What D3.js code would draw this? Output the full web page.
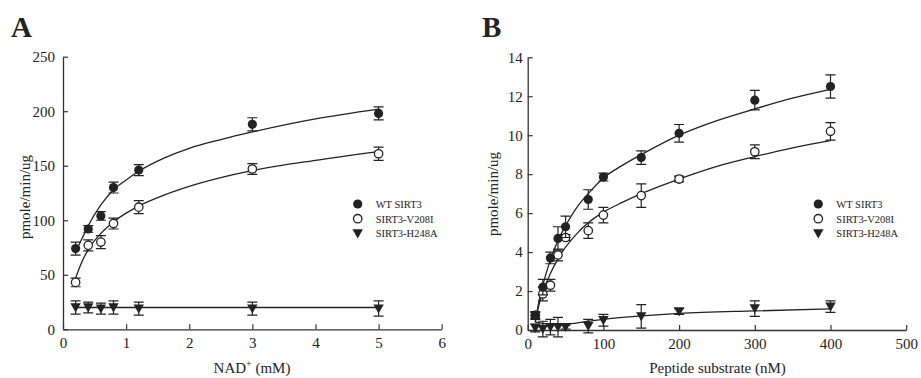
<!DOCTYPE html>
<html>
<head>
<meta charset="utf-8">
<script src="https://cdn.jsdelivr.net/npm/d3@7"></script>
<style>
  html, body { margin: 0; padding: 0; background: #fff; }
  svg text { font-family: "Liberation Serif", "Times New Roman", serif; fill: #222; }
</style>
</head>
<body>
<svg id="chart" width="921" height="378"></svg>
<script>
// ---- panel A : NAD+ ----
const nadX = [0.2, 0.4, 0.6, 0.8, 1.2, 3, 5];
const nadWT = [74, 92, 104, 130, 146, 188, 198];
const nadWTErr = [6, 3, 4, 5, 5, 6, 6];
const nadV208I = [43, 77, 80, 97, 112, 147, 161];
const nadV208IErr = [4, 5, 6, 5, 6, 5, 6];
const nadH248A = [20, 20, 19, 20, 19, 19, 19];
const nadH248AErr = [6, 5, 5, 6, 6, 6, 7];
// fitted curves
const nadFitX = [0.25, 0.3, 0.4, 0.6, 0.8, 1.0, 1.2, 1.6, 2, 2.5, 3, 4, 5];
const nadFitWT = [77, 83, 95, 114, 128, 137, 145, 157, 166, 174, 181, 193, 202];
const nadFitV208IX = [0.2, 0.3, 0.4, 0.6, 0.8, 1.0, 1.2, 1.6, 2, 2.5, 3, 4, 5];
const nadFitV208I = [47, 62, 73, 88, 98.5, 106.5, 113, 123, 131, 139, 145.5, 155, 163];
const nadFitH248AX = [0.2, 5];
const nadFitH248A = [20, 20];
const nadTicksX = [0, 1, 2, 3, 4, 5, 6];
const nadTicksY = [0, 50, 100, 150, 200, 250];

// ---- panel B : peptide ----
const pepX = [10, 20, 30, 40, 50, 80, 100, 150, 200, 300, 400];
const pepWT = [0.75, 2.2, 3.7, 4.7, 5.3, 6.7, 7.85, 8.85, 10.1, 11.8, 12.5];
const pepWTErr = [0.2, 0.4, 0.3, 0.6, 0.55, 0.5, 0.2, 0.35, 0.45, 0.5, 0.6];
const pepV208I = [0.75, 1.85, 2.3, 3.85, 4.75, 5.1, 5.9, 6.9, 7.75, 9.15, 10.2];
const pepV208IErr = [0.15, 0.35, 0.3, 0.3, 0.15, 0.4, 0.4, 0.6, 0.15, 0.35, 0.45];
const pepH248A = [0.1, 0.05, 0.15, 0.15, 0.15, 0.2, 0.5, 0.7, 0.95, 1.1, 1.2];
const pepH248AErr = [0.2, 0.4, 0.4, 0.5, 0.1, 0.35, 0.3, 0.6, 0.15, 0.4, 0.3];
const pepFitX = [10, 15, 20, 30, 40, 50, 65, 80, 100, 125, 150, 200, 250, 300, 350, 400];
const pepFitWT = [0.4, 1.5, 2.3, 3.6, 4.6, 5.35, 6.3, 7.0, 7.8, 8.45, 9.0, 10.0, 10.75, 11.35, 11.9, 12.35];
const pepFitV208I = [0.4, 1.3, 1.95, 2.9, 3.65, 4.25, 4.95, 5.5, 6.05, 6.55, 7.0, 7.75, 8.4, 8.9, 9.35, 9.72];
const pepFitH248AX = [10, 30, 50, 80, 100, 150, 200, 300, 400];
const pepFitH248A = [0.4, 0.3, 0.3, 0.45, 0.55, 0.72, 0.85, 0.98, 1.08];
const pepTicksX = [0, 100, 200, 300, 400, 500];
const pepTicksY = [0, 2, 4, 6, 8, 10, 12, 14];

const seriesNames = ["WT SIRT3", "SIRT3-V208I", "SIRT3-H248A"];
const ink = "#222";

const svg = d3.select("#chart");

function zip(xs, ys, es) {
  return xs.map((x, i) => ({ x: x, y: ys[i], e: es ? es[i] : 0 }));
}

function drawMarker(g, type, x, y) {
  if (type === 0) {
    g.append("circle").attr("cx", x).attr("cy", y).attr("r", 4.6).attr("fill", ink);
  } else if (type === 1) {
    g.append("circle").attr("cx", x).attr("cy", y).attr("r", 4.2)
      .attr("fill", "#fff").attr("stroke", ink).attr("stroke-width", 1.3);
  } else {
    g.append("path").attr("d", `M${x - 5.2},${y - 4.2}L${x + 5.2},${y - 4.2}L${x},${y + 5}Z`)
      .attr("fill", ink);
  }
}

function drawPanel(p) {
  const x = d3.scaleLinear().domain(p.xDomain).range(p.xRange);
  const y = d3.scaleLinear().domain(p.yDomain).range(p.yRange);
  const g = svg.append("g");

  // axes (ticks point inward)
  const xa = g.append("g").attr("transform", `translate(0,${p.yRange[0]})`)
    .call(d3.axisBottom(x).tickValues(p.xTicks).tickFormat(d3.format("d"))
      .tickSizeInner(-5).tickSizeOuter(0).tickPadding(8));
  const ya = g.append("g").attr("transform", `translate(${p.xRange[0]},0)`)
    .call(d3.axisLeft(y).tickValues(p.yTicks).tickFormat(d3.format("d"))
      .tickSizeInner(-5).tickSizeOuter(0).tickPadding(p.yPad));
  [xa, ya].forEach(a => {
    a.select(".domain").attr("stroke", "#333").attr("stroke-width", 1.3);
    a.selectAll(".tick line").attr("stroke", "#333").attr("stroke-width", 1.2);
    a.selectAll(".tick text").style("font-size", "15px").attr("fill", ink)
      .style("font-family", '"Liberation Serif", serif');
  });

  // fitted curves
  const line = d3.line().x(d => x(d.x)).y(d => y(d.y)).curve(d3.curveMonotoneX);
  p.fits.forEach(f => {
    g.append("path").datum(zip(f[0], f[1])).attr("d", line)
      .attr("fill", "none").attr("stroke", ink).attr("stroke-width", 1.3);
  });

  // error bars and markers, H248A first so circles sit on top
  [2, 1, 0].forEach(si => {
    const s = p.series[si];
    const pts = zip(p.xs, s[0], s[1]);
    pts.forEach(d => {
      const cx = x(d.x), lo = y(d.y - d.e), hi = y(d.y + d.e);
      g.append("path")
        .attr("d", `M${cx},${lo}V${hi}M${cx - 5},${lo}H${cx + 5}M${cx - 5},${hi}H${cx + 5}`)
        .attr("stroke", ink).attr("stroke-width", 1.2).attr("fill", "none");
    });
    pts.forEach(d => drawMarker(g, si, x(d.x), y(d.y)));
  });

  // legend
  seriesNames.forEach((name, i) => {
    const ly = p.legend[1] + i * 14.7;
    drawMarker(g, i, p.legend[0], ly);
    g.append("text").attr("x", p.legend[0] + 18).attr("y", ly + 3.8)
      .style("font-size", "10.5px").text(name);
  });

  // panel letter
  g.append("text").attr("x", p.letterX).attr("y", 37)
    .style("font-size", "29px").style("font-weight", "bold").text(p.letter);

  // axis titles
  const xt = g.append("text").attr("x", p.xTitleX).attr("y", 373)
    .attr("text-anchor", "middle").style("font-size", "15px");
  p.xTitle.forEach(part => {
    const ts = xt.append("tspan").text(part.t);
    if (part.sup) ts.attr("dy", -6).style("font-size", "10px");
    if (part.after) ts.attr("dy", 6);
  });
  g.append("text")
    .attr("transform", `translate(${p.yTitleX},${p.yTitleY}) rotate(-90)`)
    .attr("text-anchor", "middle").style("font-size", "15px").text("pmole/min/ug");
}

drawPanel({
  letter: "A", letterX: 11,
  xDomain: [0, 6], xRange: [63, 441.7],
  yDomain: [0, 250], yRange: [329.3, 56.7],
  xTicks: nadTicksX, yTicks: nadTicksY, yPad: 8,
  xs: nadX,
  series: [[nadWT, nadWTErr], [nadV208I, nadV208IErr], [nadH248A, nadH248AErr]],
  fits: [[nadFitX, nadFitWT], [nadFitV208IX, nadFitV208I], [nadFitH248AX, nadFitH248A]],
  legend: [357.7, 204],
  xTitle: [{ t: "NAD" }, { t: "+", sup: true }, { t: " (mM)", after: true }],
  xTitleX: 252, yTitleX: 30, yTitleY: 197
});

drawPanel({
  letter: "B", letterX: 482,
  xDomain: [0, 500], xRange: [527.7, 906.2],
  yDomain: [0, 14], yRange: [330, 57.3],
  xTicks: pepTicksX, yTicks: pepTicksY, yPad: 5,
  xs: pepX,
  series: [[pepWT, pepWTErr], [pepV208I, pepV208IErr], [pepH248A, pepH248AErr]],
  fits: [[pepFitX, pepFitWT], [pepFitX, pepFitV208I], [pepFitH248AX, pepFitH248A]],
  legend: [818.3, 204],
  xTitle: [{ t: "Peptide substrate (nM)" }],
  xTitleX: 717.5, yTitleX: 498, yTitleY: 194
});
</script>
</body>
</html>
